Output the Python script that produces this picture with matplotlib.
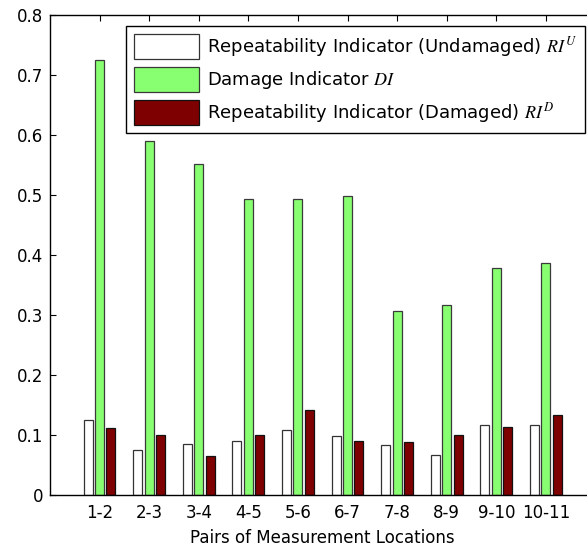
import matplotlib
matplotlib.use("Agg")
import matplotlib.pyplot as plt
import numpy as np

plt.rcParams['font.family'] = ['DejaVu Sans']
plt.rcParams['mathtext.fontset'] = 'stix'

categories = ['1-2', '2-3', '3-4', '4-5', '5-6', '6-7', '7-8', '8-9', '9-10', '10-11']
ri_undamaged = [0.125, 0.074, 0.085, 0.090, 0.108, 0.098, 0.082, 0.066, 0.116, 0.116]
damage_indicator = [0.725, 0.589, 0.551, 0.493, 0.492, 0.498, 0.306, 0.316, 0.378, 0.386]
ri_damaged = [0.111, 0.100, 0.064, 0.100, 0.141, 0.090, 0.087, 0.100, 0.113, 0.133]
yticks = [0, 0.1, 0.2, 0.3, 0.4, 0.5, 0.6, 0.7, 0.8]
ytick_labels = ['0', '0.1', '0.2', '0.3', '0.4', '0.5', '0.6', '0.7', '0.8']

W, H = 587, 552
fig = plt.figure(figsize=(W / 100, H / 100), dpi=100)
ax = fig.add_axes([49.9 / W, (H - 494.5) / H, 545.6 / W, 480 / H])
ax.set_axisbelow(True)

x = np.arange(1, len(categories) + 1)
w = 0.18
off = 0.23
ax.bar(x - off, ri_undamaged, w, color='white', edgecolor='#333333', linewidth=0.9,
       label=r'Repeatability Indicator (Undamaged) $RI^{U}$')
ax.bar(x, damage_indicator, w, color='#88ff70', edgecolor='#3a3a3a', linewidth=0.9,
       label=r'Damage Indicator $DI$')
ax.bar(x + off, ri_damaged, w, color='#7f0000', edgecolor='#111111', linewidth=0.9,
       label=r'Repeatability Indicator (Damaged) $RI^{D}$')

ax.set_xlim(0, 11)
ax.set_ylim(0, 0.8)
ax.set_xticks(x)
ax.set_xticklabels(categories)
ax.set_yticks(yticks)
ax.set_yticklabels(ytick_labels)
ax.tick_params(axis='both', direction='in', labelsize=12, length=4.5, width=0.8)
ax.tick_params(axis='x', top=True, pad=7)
ax.tick_params(axis='y', right=True, pad=5)
for s in ax.spines.values():
    s.set_linewidth(1.0)
ax.set_xlabel('Pairs of Measurement Locations', fontsize=12, labelpad=5)

leg = ax.legend(loc='upper right', bbox_to_anchor=(585 / W, 1 - 25.7 / H), bbox_transform=fig.transFigure,
                fontsize=13, handlelength=3.6, handleheight=1.75, labelspacing=0.44,
                handletextpad=0.43, borderpad=0.45, borderaxespad=0.0, fancybox=False,
                frameon=True, edgecolor='black', framealpha=1)
leg.get_frame().set_linewidth(1.0)
leg.set_zorder(5)

fig.savefig('out.png', dpi=100)
